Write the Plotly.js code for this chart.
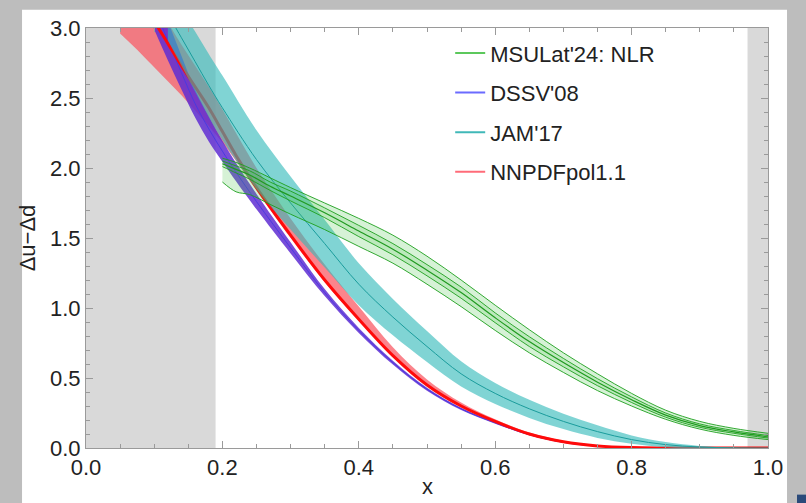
<!DOCTYPE html>
<html>
<head>
<meta charset="utf-8">
<script src="https://cdn.plot.ly/plotly-3.0.1.min.js"></script>
<style>html,body{margin:0;padding:0;background:#bdbdbd;}#chart{width:806px;height:503px;}</style>
</head>
<body>
<div id="chart"></div>
<script>
// ---------- data ----------
const seriesNames = ["MSULat'24: NLR", "DSSV'08", "JAM'17", "NNPDFpol1.1"];
const xTickVals = [0, 0.2, 0.4, 0.6, 0.8, 1.0];
const yTickVals = [0, 0.5, 1.0, 1.5, 2.0, 2.5, 3.0];
const xTitle = "x";
const yTitle = "Δu−Δd";

// MSULat'24: NLR
const msuX      = [0.20,0.22,0.24,0.27,0.30,0.35,0.40,0.45,0.50,0.55,0.60,0.65,0.70,0.75,0.80,0.85,0.90,0.95,1.00];
const msuCenter = [2.03,1.99,1.95,1.87,1.80,1.68,1.55,1.42,1.27,1.11,0.93,0.76,0.61,0.47,0.345,0.235,0.16,0.115,0.08];
const msuUpper  = [2.07,2.04,2.00,1.93,1.86,1.75,1.64,1.52,1.37,1.20,1.02,0.845,0.68,0.53,0.39,0.27,0.19,0.14,0.105];
const msuLower  = [1.90,1.83,1.81,1.74,1.67,1.56,1.44,1.32,1.17,1.01,0.84,0.68,0.54,0.41,0.30,0.205,0.135,0.09,0.06];
const msuInHigh = [2.05,2.015,1.98,1.90,1.835,1.715,1.59,1.46,1.31,1.15,0.965,0.795,0.64,0.495,0.365,0.25,0.172,0.125,0.089];
const msuInLow  = [2.01,1.965,1.92,1.84,1.765,1.645,1.51,1.38,1.23,1.07,0.895,0.725,0.58,0.445,0.325,0.22,0.148,0.105,0.071];

// DSSV'08
const dssvX      = [0.08,0.10,0.12,0.14,0.16,0.18,0.20,0.22,0.25,0.30,0.35,0.40,0.45,0.50,0.55,0.60,0.65,0.70,0.75,0.80,0.85,0.90,0.95,1.00];
const dssvCenter = [3.39,3.15,2.91,2.68,2.46,2.28,2.12,1.97,1.76,1.43,1.11,0.84,0.61,0.42,0.28,0.18,0.095,0.04,0.013,0.002,0,0,0,0];
const dssvLow    = [3.21,2.99,2.77,2.56,2.36,2.19,2.045,1.905,1.705,1.39,1.085,0.822,0.596,0.409,0.272,0.174,0.091,0.037,0.011,0.001,0,0,0,0];
const dssvHigh   = [3.57,3.31,3.05,2.80,2.56,2.37,2.195,2.035,1.815,1.47,1.135,0.858,0.624,0.431,0.288,0.186,0.099,0.043,0.015,0.003,0,0,0,0];

// JAM'17
const jamX      = [0.12,0.14,0.16,0.18,0.20,0.25,0.30,0.35,0.40,0.45,0.50,0.55,0.60,0.65,0.70,0.75,0.80,0.85,0.90,0.95,1.00];
const jamCenter = [3.10,2.93,2.76,2.59,2.43,2.06,1.75,1.46,1.17,0.935,0.725,0.53,0.39,0.28,0.19,0.117,0.06,0.024,0.007,0.001,0];
const jamLow    = [2.91,2.73,2.545,2.365,2.20,1.85,1.56,1.29,1.02,0.805,0.615,0.44,0.315,0.215,0.135,0.072,0.03,0.006,0,0,0];
const jamHigh   = [3.29,3.13,2.975,2.815,2.66,2.27,1.94,1.63,1.32,1.065,0.835,0.62,0.465,0.345,0.245,0.162,0.09,0.042,0.015,0.004,0];

// NNPDFpol1.1
const nnX      = [0.05,0.08,0.10,0.12,0.14,0.16,0.18,0.20,0.22,0.25,0.30,0.35,0.40,0.45,0.50,0.55,0.60,0.65,0.70,0.75,0.80,0.85,0.90,0.95,1.00];
const nnCenter = [3.50,3.22,3.05,2.89,2.73,2.58,2.43,2.26,2.09,1.86,1.52,1.20,0.92,0.66,0.45,0.30,0.19,0.10,0.045,0.015,0.003,0.0005,0,0,0];
const nnLow    = [2.96,2.82,2.72,2.62,2.52,2.41,2.30,2.18,2.05,1.84,1.50,1.185,0.91,0.655,0.445,0.297,0.188,0.099,0.044,0.014,0.0025,0.0004,0,0,0];
const nnHigh   = [3.70,3.38,3.20,3.04,2.88,2.73,2.58,2.42,2.25,2.00,1.64,1.31,1.01,0.72,0.49,0.325,0.205,0.11,0.052,0.02,0.005,0.001,0,0,0];

// excluded x-regions (grey)
const greyLeft = [0, 0.19];
const greyRight = [0.97, 1.0];

// ---------- styles ----------
const FONT = "Liberation Sans, Arial, Helvetica, sans-serif";
const legendColors = ["#5cc85c", "#6b6bff", "#40b8b8", "#ff6b78"];

function band(x, lo, hi, fill, edgeColor, edgeW) {
  const ln = {color: edgeColor || "rgba(0,0,0,0)", width: edgeW || 0, shape: "spline", smoothing: 1};
  return [
    {x: x, y: lo, mode: "lines", line: ln, showlegend: false, hoverinfo: "skip"},
    {x: x, y: hi, mode: "lines", fill: "tonexty", fillcolor: fill, line: ln, showlegend: false, hoverinfo: "skip"}
  ];
}
function line(x, y, color, w) {
  return {x: x, y: y, mode: "lines", line: {color: color, width: w, shape: "spline", smoothing: 1},
          showlegend: false, hoverinfo: "skip"};
}

const traces = [].concat(
  band(nnX, nnLow, nnHigh, "rgba(250,85,95,0.72)"),
  band(dssvX, dssvLow, dssvHigh, "rgba(95,45,210,0.85)"),
  [line(dssvX, dssvCenter, "#4a3ae0", 1)],
  [line(nnX, nnCenter, "#ff0a0a", 3)],
  band(jamX, jamLow, jamHigh, "rgba(50,185,185,0.62)"),
  [line(jamX, jamCenter, "#1a9c9c", 1)],
  band(msuX, msuLower, msuUpper, "rgba(70,195,70,0.22)", "rgba(30,160,30,0.9)", 1),
  band(msuX, msuInLow, msuInHigh, "rgba(70,195,70,0.18)", "rgba(30,160,30,0.9)", 1),
  [line(msuX, msuCenter, "#1f9a1f", 1.2)]
);
// legend entries (no data points)
seriesNames.forEach(function (n, i) {
  traces.push({x: [null], y: [null], mode: "lines", name: n, legendgroup: "g" + i,
               line: {color: legendColors[i], width: 2}, hoverinfo: "skip"});
});

const axisCommon = {
  showline: true, linecolor: "#9a9a9a", linewidth: 1, mirror: "ticks",
  ticks: "inside", tickcolor: "#9a9a9a", ticklen: 7, tickwidth: 1,
  showgrid: false, zeroline: false, tickformat: ".1f",
  tickfont: {family: FONT, size: 22, color: "#222"}
};

const layout = {
  width: 806, height: 503,
  margin: {l: 86, r: 38, t: 28, b: 55},
  paper_bgcolor: "#bdbdbd",
  plot_bgcolor: "#ffffff",
  font: {family: FONT, size: 22, color: "#222"},
  showlegend: true,
  xaxis: Object.assign({}, axisCommon, {
    range: [0, 1], tickvals: xTickVals,
    minor: {dtick: 0.05, ticklen: 4, tickcolor: "#9a9a9a", ticks: "inside"}
  }),
  yaxis: Object.assign({}, axisCommon, {
    range: [0, 3], tickvals: yTickVals,
    minor: {dtick: 0.1, ticklen: 4, tickcolor: "#9a9a9a", ticks: "inside"},
    title: {text: yTitle, font: {family: FONT, size: 22, color: "#222"}, standoff: 8}
  }),
  annotations: [
    {text: xTitle, xref: "paper", yref: "paper", x: 0.5, y: -0.127, xanchor: "center", yanchor: "bottom",
     showarrow: false, font: {family: FONT, size: 22, color: "#222"}}
  ],
  legend: {x: 0.534, y: 0.99, xanchor: "left", yanchor: "top", bgcolor: "rgba(0,0,0,0)",
           font: {family: FONT, size: 22, color: "#222"}, traceorder: "grouped", tracegroupgap: 8},
  shapes: [
    {type: "rect", xref: "paper", yref: "paper", x0: -0.0938, x1: 1.0279, y0: -0.25, y1: 1.0436,
     fillcolor: "#ffffff", line: {width: 0}, layer: "below"},
    {type: "rect", xref: "x", yref: "paper", x0: greyLeft[0], x1: greyLeft[1], y0: 0, y1: 1,
     fillcolor: "#d9d9d9", line: {width: 0}, layer: "below"},
    {type: "rect", xref: "x", yref: "paper", x0: greyRight[0], x1: greyRight[1], y0: 0, y1: 1,
     fillcolor: "#d9d9d9", line: {width: 0}, layer: "below"},
    {type: "rect", xref: "paper", yref: "paper", x0: 1.0425, x1: 1.06, y0: -0.2, y1: -0.111,
     fillcolor: "#2a4a7a", line: {width: 0}, layer: "above"}
  ]
};

Plotly.newPlot("chart", traces, layout, {staticPlot: true, displayModeBar: false});
</script>
</body>
</html>
